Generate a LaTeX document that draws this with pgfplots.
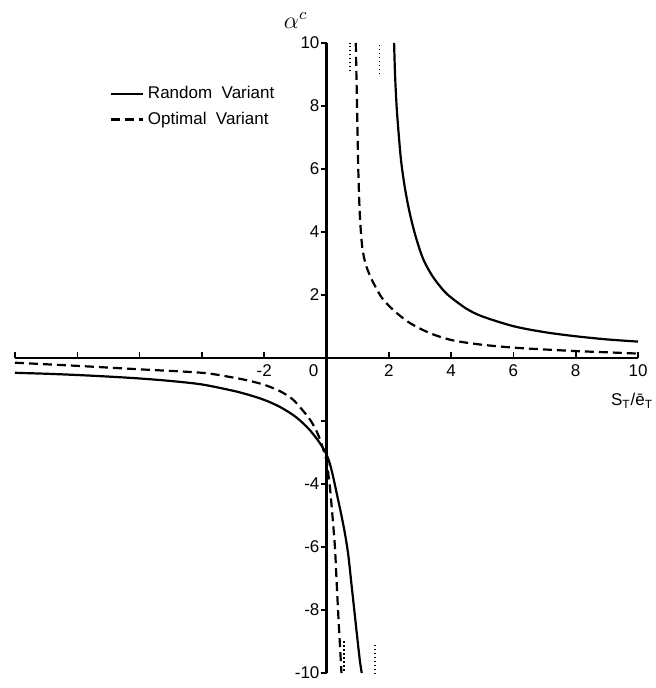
\documentclass[border=0pt]{standalone}
\usepackage{fontspec}
\setmainfont{Liberation Sans}
\usepackage{pgfplots}
\pgfplotsset{compat=1.18}
\begin{document}
\begin{tikzpicture}
\begin{axis}[
  scale only axis, width=311.5pt, height=315pt,
  xmin=-10, xmax=10, ymin=-10, ymax=10,
  axis lines=middle,
  axis line style={-, line width=1.3pt},
  inner axis line style={-, line width=1.3pt},
  clip=false,
  xtick={-10,-8,...,10},
  xticklabels={,,,,-2,,2,4,6,8,10},
  ytick={-10,-8,...,10},
  yticklabels={-10,-8,-6,-4,,,2,4,6,8,10},
  tick align=inside,
  major tick length=3pt,
  tick style={line width=0.8pt, black},
  ytick style={xshift=-3pt},
  ticklabel style={font=\fontsize{8.5}{10}\selectfont},
  legend cell align=left,
  legend style={draw=none, fill=none, at={(axis cs:-6.97,7.97)}, anchor=west,
    inner sep=0pt, row sep=1pt, font=\fontsize{8.5}{10}\selectfont},
  legend image code/.code={\draw[#1] (0pt,0pt) -- (16pt,0pt);},
]
% Random variant, upper branch
\addplot[black, line width=1.1pt, smooth] coordinates {
(2.17,10) (2.20,9.0) (2.25,8.0) (2.31,7.2) (2.39,6.3) (2.5,5.5) (2.65,4.7)
(2.85,3.9) (3.1,3.15) (3.4,2.6) (3.75,2.15) (4.0,1.92) (4.5,1.56) (5.0,1.32)
(6.0,1.01) (7.0,0.82) (8.0,0.69) (9.0,0.59) (10,0.52)};
\addlegendentry{Random\ \ Variant}
% Optimal variant, upper branch
\addplot[black, line width=1.1pt, dash pattern=on 4.5pt off 2.5pt, smooth] coordinates {
(0.94,10) (0.96,9) (0.98,8) (1.0,7.0) (1.02,6.0) (1.05,5.0) (1.09,4.2) (1.15,3.5)
(1.25,3.0) (1.4,2.6) (1.55,2.3) (1.8,1.88) (2.17,1.5) (2.6,1.16) (3.03,0.92)
(3.5,0.72) (4.1,0.55) (5.0,0.42) (6.0,0.33) (7.0,0.27) (8.0,0.22) (9.0,0.18) (10,0.14)};
\addlegendentry{Optimal\ \ Variant}
% Random variant, lower branch
\addplot[black, line width=1.1pt, smooth, forget plot] coordinates {
(-10,-0.47) (-9,-0.5) (-8,-0.54) (-7,-0.59) (-6,-0.65) (-5,-0.73) (-4,-0.84)
(-3,-1.04) (-2.5,-1.17) (-2,-1.33) (-1.5,-1.55) (-1.0,-1.86) (-0.6,-2.22)
(-0.3,-2.58) (-0.05,-2.96) (0.1,-3.33) (0.22,-3.8) (0.35,-4.4) (0.48,-5.0)
(0.6,-5.62) (0.7,-6.26) (0.8,-7.17) (0.9,-8.08) (1.0,-8.99) (1.07,-9.6) (1.13,-10)};
% Optimal variant, lower branch
\addplot[black, line width=1.1pt, dash pattern=on 4.5pt off 2.5pt, smooth, forget plot] coordinates {
(-10,-0.15) (-8,-0.25) (-6,-0.36) (-4,-0.47) (-3,-0.62) (-2.5,-0.72) (-2,-0.85)
(-1.5,-1.05) (-1.1,-1.3) (-0.8,-1.62) (-0.5,-2.0) (-0.25,-2.48) (0,-3.25)
(0.06,-3.7) (0.11,-4.1) (0.19,-5.0) (0.27,-6.0) (0.32,-7.0) (0.37,-8.0)
(0.425,-9.0) (0.48,-10)};
% dotted asymptote marks
\addplot[black, line width=0.8pt, dash pattern=on 0.6pt off 1.4pt, forget plot] coordinates {(0.75,9.1) (0.75,10)};
\addplot[black, line width=0.8pt, dash pattern=on 0.6pt off 1.4pt, forget plot] coordinates {(1.70,9.0) (1.70,10)};
\addplot[black, line width=0.8pt, dash pattern=on 0.6pt off 1.4pt, forget plot] coordinates {(0.57,-9.0) (0.57,-10)};
\addplot[black, line width=0.8pt, dash pattern=on 0.6pt off 1.4pt, forget plot] coordinates {(1.56,-9.1) (1.56,-10.1)};
% labels
\node[anchor=south east, inner sep=0pt, font=\fontsize{12}{14}\selectfont] at (axis cs:-0.6,10.45) {$\alpha^{c}$};
\node[anchor=east, inner sep=0pt, font=\fontsize{8.5}{10}\selectfont] at (axis cs:10.5,-1.37) {S\textsubscript{T}/ē\textsubscript{T}};
\node[anchor=north east, inner sep=0pt, font=\fontsize{8.5}{10}\selectfont] at (axis cs:-0.25,-0.2) {0};
\coordinate (sw) at (axis cs:-10,-10);
\coordinate (ne) at (axis cs:10,10);
\end{axis}
\pgfresetboundingbox
\path ([shift={(-7.5pt,-7.5pt)}]sw) rectangle ([shift={(8.5pt,21.5pt)}]ne);
\end{tikzpicture}
\end{document}
